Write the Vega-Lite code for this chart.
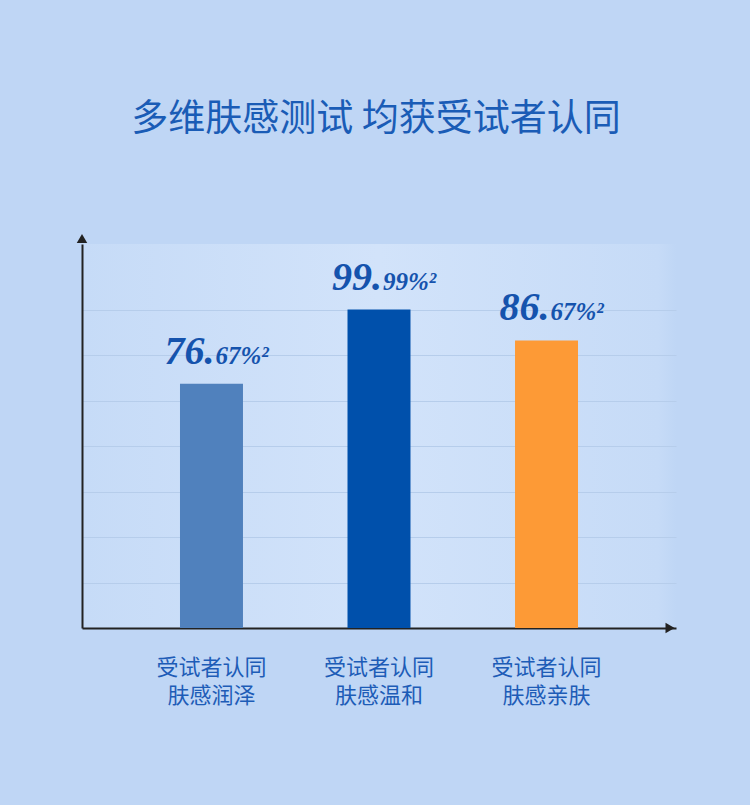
{
  "$schema": "https://vega.github.io/schema/vega-lite/v6.json",
  "width": 594,
  "height": 384,
  "autosize": "none",
  "padding": {"left": 82, "top": 244, "right": 74, "bottom": 177},
  "background": "#bfd6f5",
  "title": {
    "text": "多维肤感测试 均获受试者认同",
    "font": "Noto Sans CJK SC",
    "fontSize": 37,
    "fontWeight": "normal",
    "color": "#1a5cb6",
    "anchor": "middle",
    "dx": -3,
    "offset": 95
  },
  "config": {
    "view": {
      "stroke": null,
      "fill": {
        "gradient": "linear",
        "x1": 0, "x2": 1, "y1": 0, "y2": 0,
        "stops": [
          {"offset": 0, "color": "#c6dbf7"},
          {"offset": 0.5, "color": "#d2e3fa"},
          {"offset": 0.97, "color": "#c6dbf7"},
          {"offset": 1, "color": "#bfd6f5"}
        ]
      }
    }
  },
  "layer": [
    {
      "data": {
        "values": [
          {"group": "受试者认同", "cat": "肤感润泽", "value": 76.67, "big": "76.", "small": "67%²"},
          {"group": "受试者认同", "cat": "肤感温和", "value": 99.99, "big": "99.", "small": "99%²"},
          {"group": "受试者认同", "cat": "肤感亲肤", "value": 90.3, "big": "86.", "small": "67%²"}
        ]
      },
      "encoding": {
        "x": {
          "field": "cat", "type": "nominal", "sort": null,
          "scale": {"paddingInner": 0.624, "paddingOuter": 0.585},
          "axis": {"domain": true, "domainColor": "#222222", "domainWidth": 2, "ticks": false, "labels": false, "title": null, "grid": false}
        },
        "y": {
          "field": "value", "type": "quantitative",
          "scale": {"domain": [0, 120.57], "nice": false},
          "axis": {
            "values": [14.2857, 28.5714, 42.8571, 57.1429, 71.4286, 85.7143, 100],
            "domainColor": "#222222", "domainWidth": 2, "ticks": false, "labels": false, "title": null,
            "gridColor": "#b6cdeb", "gridWidth": 1
          }
        }
      },
      "layer": [
        {
          "mark": "bar",
          "encoding": {
            "color": {
              "field": "cat", "type": "nominal", "sort": null,
              "scale": {"range": ["#5081bd", "#0050ab", "#fd9a36"]},
              "legend": null
            }
          }
        },
        {
          "mark": {"type": "text", "align": "right", "baseline": "alphabetic", "dx": 3, "dy": -20,
            "font": "Liberation Serif", "fontStyle": "italic", "fontWeight": "bold", "fontSize": 40, "color": "#1553ad"},
          "encoding": {"text": {"field": "big"}}
        },
        {
          "mark": {"type": "text", "align": "left", "baseline": "alphabetic", "dx": 4, "dy": -20,
            "font": "Liberation Serif", "fontStyle": "italic", "fontWeight": "bold", "fontSize": 25, "color": "#1553ad"},
          "encoding": {"text": {"field": "small"}}
        },
        {
          "mark": {"type": "text", "align": "center", "baseline": "middle",
            "font": "Noto Sans CJK SC", "fontSize": 22, "color": "#1d5cb7"},
          "encoding": {
            "y": {"datum": -12.7, "type": "quantitative"},
            "text": {"field": "group"}
          }
        },
        {
          "mark": {"type": "text", "align": "center", "baseline": "middle",
            "font": "Noto Sans CJK SC", "fontSize": 22, "color": "#1d5cb7"},
          "encoding": {
            "y": {"datum": -21.5, "type": "quantitative"},
            "text": {"field": "cat"}
          }
        }
      ]
    },
    {
      "data": {"values": [{}]},
      "mark": {"type": "point", "shape": "triangle-up", "filled": true, "size": 110, "color": "#222222", "opacity": 1},
      "encoding": {
        "x": {"datum": 0, "type": "quantitative", "scale": {"domain": [0, 1]}, "axis": null},
        "y": {"datum": 122.3, "type": "quantitative"}
      }
    },
    {
      "data": {"values": [{}]},
      "mark": {"type": "point", "shape": "triangle-right", "filled": true, "size": 110, "color": "#222222", "opacity": 1},
      "encoding": {
        "x": {"datum": 0.99, "type": "quantitative", "scale": {"domain": [0, 1]}, "axis": null},
        "y": {"datum": 0, "type": "quantitative"}
      }
    }
  ],
  "resolve": {"scale": {"x": "independent"}}
}
